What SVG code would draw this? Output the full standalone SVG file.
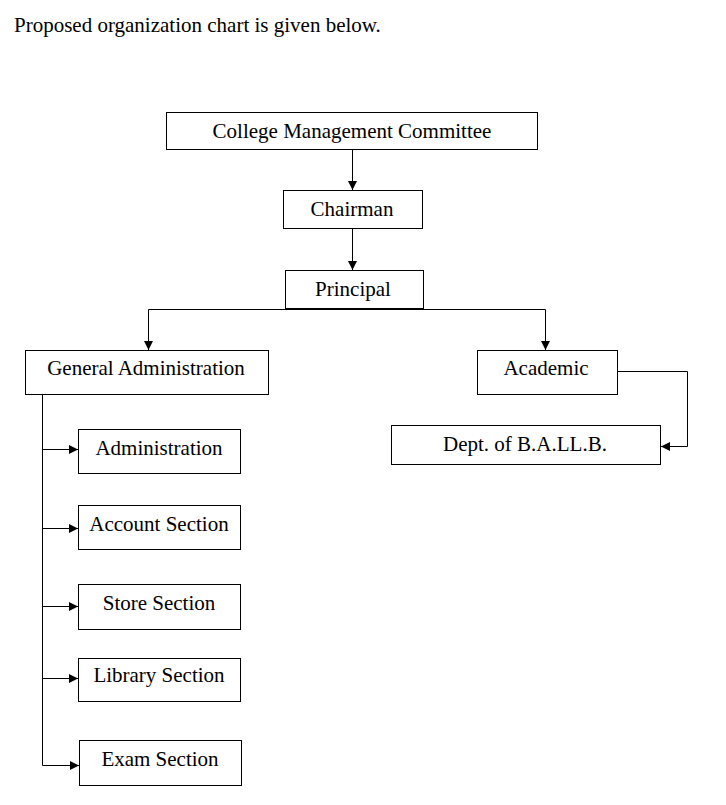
<svg xmlns="http://www.w3.org/2000/svg" width="726" height="805" viewBox="0 0 726 805">
<style>
text{font-family:"Liberation Serif","Times New Roman",serif;font-size:21px;fill:#000}
.c{text-anchor:middle}
rect{fill:#fff;stroke:#000;stroke-width:1}
.ln{fill:none;stroke:#000;stroke-width:1}
</style>
<defs>
<marker id="ah" viewBox="0 0 10 10" refX="10" refY="5" markerWidth="9" markerHeight="9" markerUnits="userSpaceOnUse" orient="auto">
<path d="M0,0 L10,5 L0,10 z" fill="#000"/>
</marker>
</defs>
<rect x="0" y="0" width="726" height="805" style="stroke:none"/>
<text x="14" y="32">Proposed organization chart is given below.</text>
<g id="connectors">
<path class="ln" d="M352.5,149 V190" marker-end="url(#ah)"/>
<path class="ln" d="M352.5,228 V270" marker-end="url(#ah)"/>
<path class="ln" d="M148.5,309.5 H545.5"/>
<path class="ln" d="M148.5,309.5 V350" marker-end="url(#ah)"/>
<path class="ln" d="M545.5,309.5 V350" marker-end="url(#ah)"/>
<path class="ln" d="M617,371.5 H687.5 V446.5 H661" marker-end="url(#ah)"/>
<path class="ln" d="M42.5,394 V765.5"/>
<path class="ln" d="M42.5,449.5 H78" marker-end="url(#ah)"/>
<path class="ln" d="M42.5,528.5 H78" marker-end="url(#ah)"/>
<path class="ln" d="M42.5,606.5 H78" marker-end="url(#ah)"/>
<path class="ln" d="M42.5,678.5 H78" marker-end="url(#ah)"/>
<path class="ln" d="M42.5,765.5 H79" marker-end="url(#ah)"/>
</g>
<g id="cmc"><rect x="166.5" y="112.5" width="371" height="37"/><text class="c" x="352" y="138">College Management Committee</text></g>
<g id="chairman"><rect x="283.5" y="190.5" width="139" height="38"/><text class="c" x="352" y="216">Chairman</text></g>
<g id="principal"><rect x="285.5" y="270.5" width="138" height="38"/><text class="c" x="353" y="296">Principal</text></g>
<g id="general-administration"><rect x="25.5" y="350.5" width="243" height="44"/><text class="c" x="146" y="375">General Administration</text></g>
<g id="academic"><rect x="477.5" y="350.5" width="140" height="44"/><text class="c" x="546" y="375">Academic</text></g>
<g id="dept"><rect x="391.5" y="425.5" width="269" height="39"/><text class="c" x="525" y="451">Dept. of B.A.LL.B.</text></g>
<g id="administration"><rect x="78.5" y="429.5" width="162" height="44"/><text class="c" x="159" y="455">Administration</text></g>
<g id="account"><rect x="78.5" y="505.5" width="162" height="44"/><text class="c" x="159" y="531">Account Section</text></g>
<g id="store"><rect x="78.5" y="584.5" width="162" height="45"/><text class="c" x="159" y="610">Store Section</text></g>
<g id="library"><rect x="78.5" y="658.5" width="162" height="43"/><text class="c" x="159" y="682">Library Section</text></g>
<g id="exam"><rect x="79.5" y="740.5" width="162" height="45"/><text class="c" x="160" y="766">Exam Section</text></g>
</svg>
